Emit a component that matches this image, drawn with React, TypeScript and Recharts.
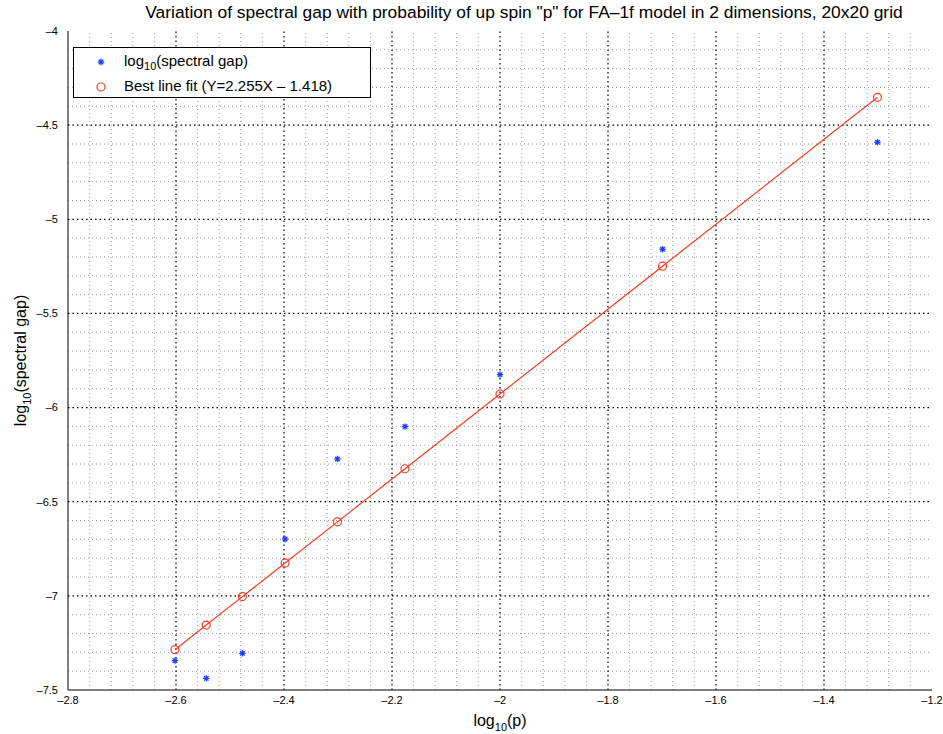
import { ComposedChart, Line, Scatter, XAxis, YAxis, ReferenceLine, Label } from "recharts";

const logP = [-2.602, -2.544, -2.477, -2.398, -2.301, -2.176, -2.0, -1.699, -1.301];
const logGap = [-7.344, -7.438, -7.305, -6.698, -6.273, -6.101, -5.825, -5.159, -4.591];
const bestFit = [-7.286, -7.155, -7.004, -6.825, -6.607, -6.325, -5.928, -5.249, -4.352];

const xTicks = [-2.8, -2.6, -2.4, -2.2, -2, -1.8, -1.6, -1.4, -1.2];
const yTicks = [-7.5, -7, -6.5, -6, -5.5, -5, -4.5, -4];
const xMinor = [
  -2.76, -2.72, -2.68, -2.64, -2.56, -2.52, -2.48, -2.44, -2.36, -2.32, -2.28, -2.24,
  -2.16, -2.12, -2.08, -2.04, -1.96, -1.92, -1.88, -1.84, -1.76, -1.72, -1.68, -1.64,
  -1.56, -1.52, -1.48, -1.44, -1.36, -1.32, -1.28, -1.24,
];
const yMinor = [
  -7.4, -7.3, -7.2, -7.1, -6.9, -6.8, -6.7, -6.6, -6.4, -6.3, -6.2, -6.1, -5.9, -5.8,
  -5.7, -5.6, -5.4, -5.3, -5.2, -5.1, -4.9, -4.8, -4.7, -4.6, -4.4, -4.3, -4.2, -4.1,
];

const rows = logP.map((x, i) => ({ x, gap: logGap[i], fit: bestFit[i] }));

const FONT = "'Liberation Sans', Arial, Helvetica, sans-serif";
const BLUE = "#1b3dff";
const RED = "#f43d22";

const fmt = (v: number) => String(v).replace("-", "\u2013");

function Star(props: any) {
  const { cx, cy } = props;
  if (cx == null || cy == null) return null;
  const r = 3.2;
  const d = r * 0.707;
  return (
    <g stroke={BLUE} strokeWidth={1.3}>
      <line x1={cx - r} y1={cy} x2={cx + r} y2={cy} />
      <line x1={cx} y1={cy - r} x2={cx} y2={cy + r} />
      <line x1={cx - d} y1={cy - d} x2={cx + d} y2={cy + d} />
      <line x1={cx - d} y1={cy + d} x2={cx + d} y2={cy - d} />
    </g>
  );
}

function XLabel(props: any) {
  const vb = props.viewBox;
  return (
    <text x={vb.x + vb.width / 2} y={vb.y + 36} textAnchor="middle" fontSize={16} fontFamily={FONT} fill="#000">
      <tspan>log</tspan>
      <tspan fontSize={11} dy={5}>10</tspan>
      <tspan dy={-5}>(p)</tspan>
    </text>
  );
}

function YLabel(props: any) {
  const vb = props.viewBox;
  const cx = 26;
  const cy = vb.y + vb.height / 2;
  return (
    <text x={cx} y={cy} transform={`rotate(-90 ${cx} ${cy})`} textAnchor="middle" fontSize={16} fontFamily={FONT} fill="#000">
      <tspan>log</tspan>
      <tspan fontSize={11} dy={5}>10</tspan>
      <tspan dy={-5}>(spectral gap)</tspan>
    </text>
  );
}

export default function App() {
  const tickStyle = { fontSize: 11, fontFamily: FONT, fill: "#000" };
  return (
    <div style={{ position: "absolute", left: 0, top: 0, width: 943, height: 734, background: "#fff" }}>
      <div
        style={{
          position: "absolute",
          left: 524 - 450,
          top: 2,
          width: 900,
          textAlign: "center",
          fontFamily: FONT,
          fontSize: 17.4,
          whiteSpace: "nowrap",
        }}
      >
        Variation of spectral gap with probability of up spin "p" for FA{"\u2013"}1f model in 2 dimensions, 20x20 grid
      </div>
      <ComposedChart width={943} height={734} data={rows} margin={{ top: 31, right: 11, bottom: 14, left: 0 }}>
        {xMinor.map((v) => (
          <ReferenceLine key={"xm" + v} x={v} stroke="#9a9a9a" strokeDasharray="1 3" strokeWidth={1} />
        ))}
        {yMinor.map((v) => (
          <ReferenceLine key={"ym" + v} y={v} stroke="#9a9a9a" strokeDasharray="1 3" strokeWidth={1} />
        ))}
        {xTicks.slice(1, -1).map((v) => (
          <ReferenceLine key={"xM" + v} x={v} stroke="#000" strokeDasharray="1.5 3" strokeWidth={1.2} />
        ))}
        {yTicks.slice(1, -1).map((v) => (
          <ReferenceLine key={"yM" + v} y={v} stroke="#000" strokeDasharray="1.5 3" strokeWidth={1.2} />
        ))}
        <XAxis
          dataKey="x"
          type="number"
          domain={[-2.8, -1.2]}
          ticks={xTicks}
          tickFormatter={fmt}
          tick={tickStyle}
          tickLine={false}
          axisLine={{ stroke: "#000" }}
          height={30}
          tickMargin={0}
          allowDataOverflow
        >
          <Label content={<XLabel />} />
        </XAxis>
        <XAxis xAxisId="top" orientation="top" type="number" domain={[-2.8, -1.2]} tick={false} tickLine={false} axisLine={{ stroke: "#000" }} height={0} />
        <YAxis
          type="number"
          domain={[-7.5, -4]}
          ticks={yTicks}
          tickFormatter={fmt}
          tick={tickStyle}
          tickLine={false}
          axisLine={{ stroke: "#000" }}
          width={68}
          tickMargin={4}
          allowDataOverflow
        >
          <Label content={<YLabel />} />
        </YAxis>
        <YAxis yAxisId="right" orientation="right" type="number" domain={[-7.5, -4]} tick={false} tickLine={false} axisLine={{ stroke: "#000" }} width={0} />
        <Line
          dataKey="fit"
          stroke={RED}
          strokeWidth={1.2}
          dot={{ r: 4, stroke: RED, strokeWidth: 1.2, fill: "none" }}
          isAnimationActive={false}
        />
        <Scatter dataKey="gap" fill={BLUE} shape={<Star />} isAnimationActive={false} />
      </ComposedChart>
      <div
        style={{
          position: "absolute",
          left: 73,
          top: 47,
          width: 298,
          height: 51,
          border: "1.5px solid #000",
          background: "#fff",
          fontFamily: FONT,
          fontSize: 15,
          lineHeight: "18px",
          boxSizing: "border-box",
        }}
      >
        <svg width={40} height={50} style={{ position: "absolute", left: 8, top: -1 }}>
          <Star cx={19} cy={15} />
          <circle cx={19} cy={40} r={4} stroke={RED} strokeWidth={1.2} fill="none" />
        </svg>
        <div style={{ position: "absolute", left: 50, top: 4, whiteSpace: "nowrap" }}>
          log<sub style={{ fontSize: 11, lineHeight: 0 }}>10</sub>(spectral gap)
        </div>
        <div style={{ position: "absolute", left: 50, top: 29, whiteSpace: "nowrap" }}>
          Best line fit (Y=2.255X {"\u2013"} 1.418)
        </div>
      </div>
    </div>
  );
}
